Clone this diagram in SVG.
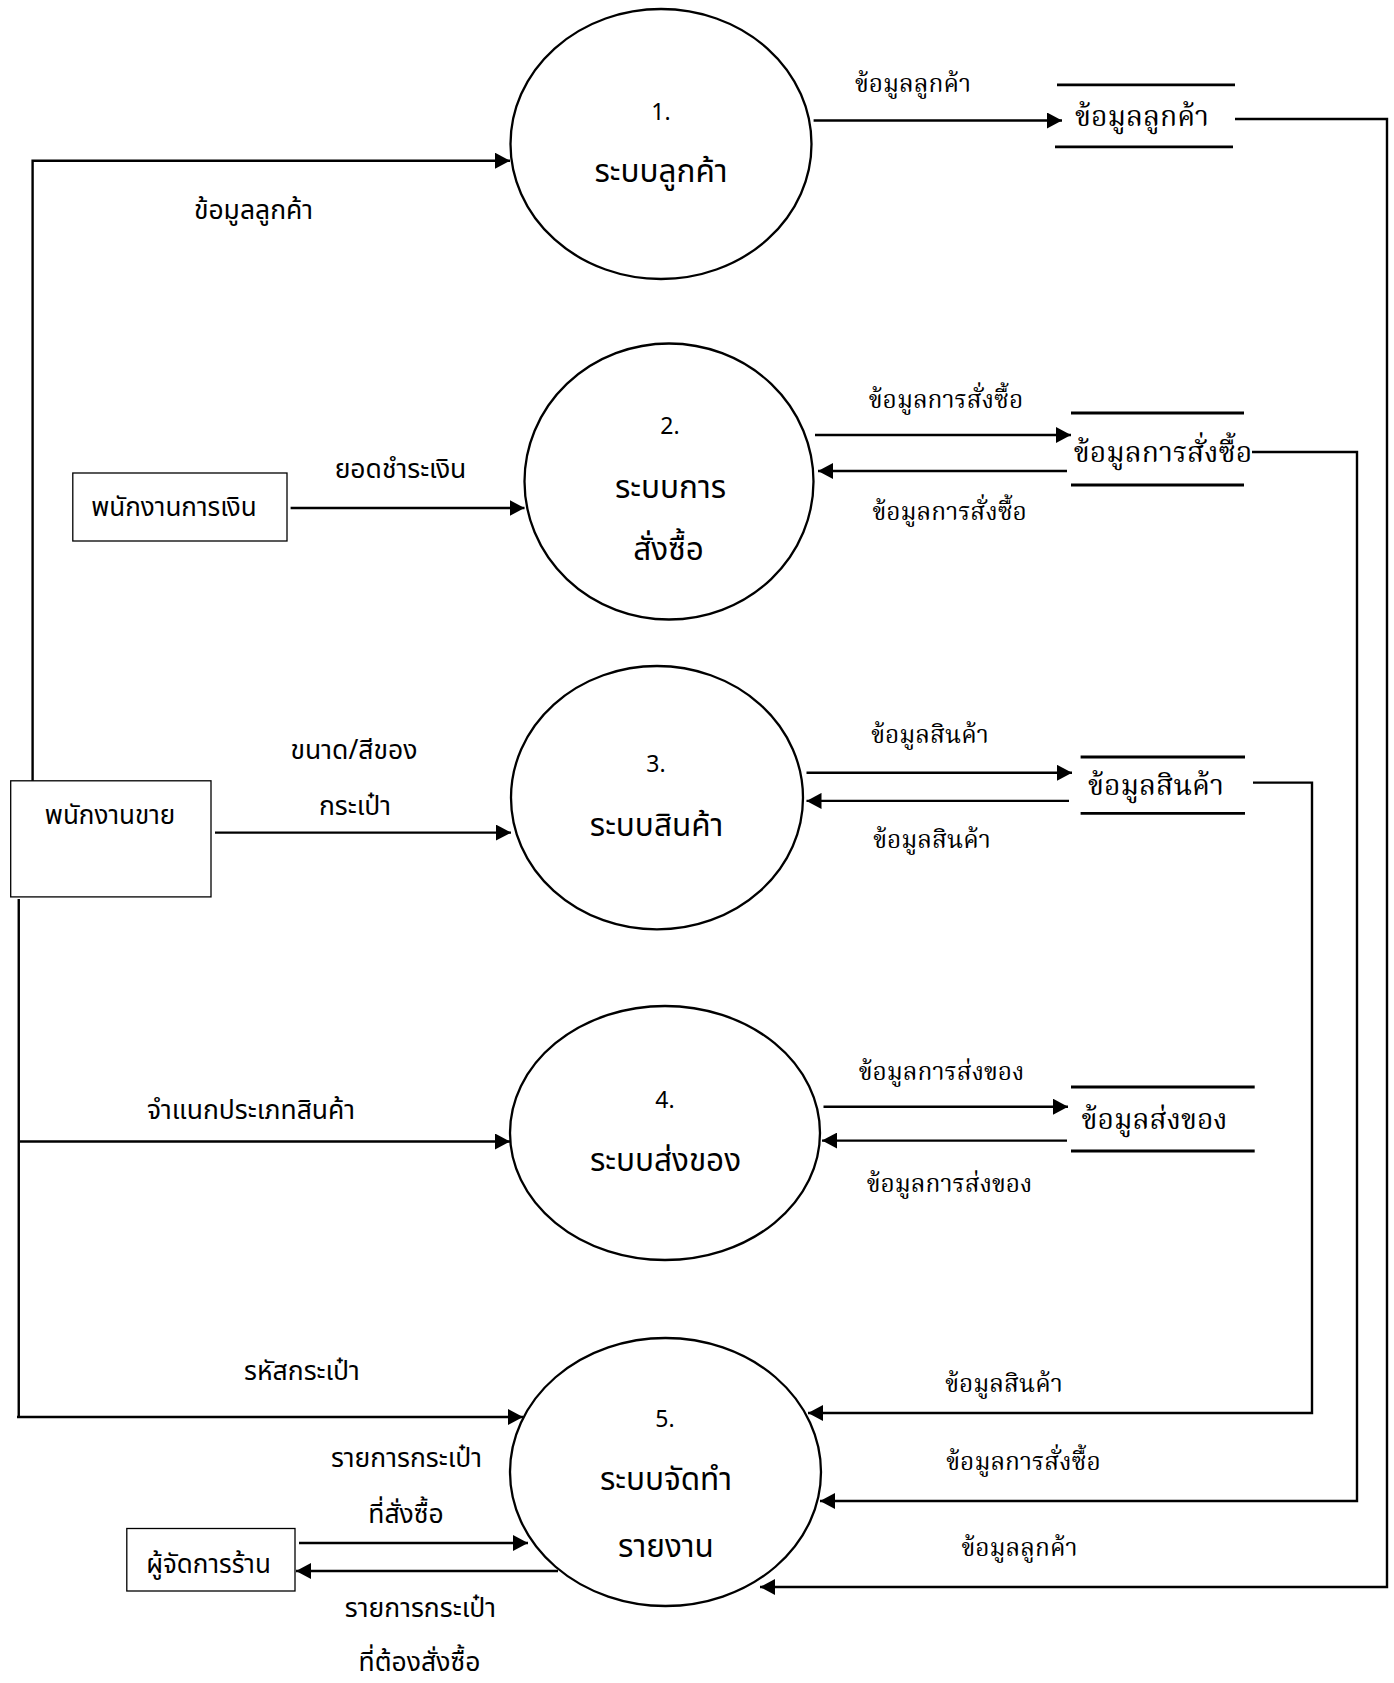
<svg xmlns="http://www.w3.org/2000/svg" width="1394" height="1683" viewBox="0 0 1394 1683">
<defs>
<marker id="ah" markerUnits="userSpaceOnUse" markerWidth="16" markerHeight="16" refX="15" refY="8" orient="auto">
<path d="M0,0 L15,8 L0,16 z" fill="#000"/>
</marker>
<style>
.proc{fill:#fff;stroke:#000;stroke-width:2.3}
.ent{fill:#fff;stroke:#000;stroke-width:1.3}
.store{stroke:#000;stroke-width:2.8}
.c{fill:none;stroke:#000;stroke-width:2.4}
.ca{fill:none;stroke:#000;stroke-width:2.4;marker-end:url(#ah)}
.pn{font-family:"Noto Sans Thai","Tahoma","DejaVu Sans","Noto Sans",sans-serif;font-size:23px;fill:#000;text-anchor:middle}
.pt{font-family:"Noto Sans Thai","Tahoma","DejaVu Sans","Noto Sans",sans-serif;font-size:31.5px;fill:#000;text-anchor:middle}
.et{font-family:"Noto Sans Thai","Tahoma","DejaVu Sans","Noto Sans",sans-serif;font-size:26px;fill:#000;text-anchor:middle}
.ls{font-family:"Noto Sans Thai","Tahoma","DejaVu Sans","Noto Sans",sans-serif;font-size:26.5px;fill:#000;text-anchor:middle}
.lr{font-family:"Noto Serif Thai","Angsana New","DejaVu Serif","Liberation Serif",serif;font-size:24.5px;fill:#000;text-anchor:middle}
.st{font-family:"Noto Serif Thai","Angsana New","DejaVu Serif","Liberation Serif",serif;font-size:28.3px;fill:#000;text-anchor:middle}
</style>
</defs>
<rect width="1394" height="1683" fill="#fff"/>

<g id="connectors">
<polyline class="ca" points="32.6,786.6 32.6,160.7 510,160.7"/>
<line class="c" x1="18.75" y1="899" x2="18.75" y2="1417"/>
<line class="ca" x1="290.6" y1="508" x2="524.5" y2="508"/>
<line class="ca" x1="215" y1="832.6" x2="511" y2="832.6"/>
<line class="ca" x1="20" y1="1141.5" x2="510" y2="1141.5"/>
<line class="ca" x1="17" y1="1417" x2="523" y2="1417"/>
<line class="ca" x1="299" y1="1543" x2="528" y2="1543"/>
<line class="ca" x1="558" y1="1571" x2="296" y2="1571"/>
<line class="ca" x1="813.6" y1="120.5" x2="1062" y2="120.5"/>
<line class="ca" x1="815" y1="435" x2="1071" y2="435"/>
<line class="ca" x1="1067" y1="471" x2="818" y2="471"/>
<line class="ca" x1="806.5" y1="772.8" x2="1072" y2="772.8"/>
<line class="ca" x1="1069" y1="800.9" x2="806.5" y2="800.9"/>
<line class="ca" x1="823.5" y1="1106.7" x2="1068" y2="1106.7"/>
<line class="ca" x1="1067" y1="1140.6" x2="822" y2="1140.6"/>
<polyline class="ca" points="1235,119 1387,119 1387,1587 760,1587"/>
<polyline class="ca" points="1252,452 1357,452 1357,1501 820,1501"/>
<polyline class="ca" points="1253,782.6 1312,782.6 1312,1413 808,1413"/>
</g>

<g id="p1">
<ellipse class="proc" cx="661" cy="144" rx="150.5" ry="135"/>
<text class="pn" x="661" y="120">1.</text>
<text class="pt" x="661" y="182">ระบบลูกค้า</text>
</g>
<g id="p2">
<ellipse class="proc" cx="669" cy="481.5" rx="144.5" ry="138"/>
<text class="pn" x="670" y="434">2.</text>
<text class="pt" x="670.5" y="498">ระบบการ</text>
<text class="pt" x="668.6" y="560">สั่งซื้อ</text>
</g>
<g id="p3">
<ellipse class="proc" cx="657" cy="797.7" rx="146" ry="131.7"/>
<text class="pn" x="656" y="772">3.</text>
<text class="pt" x="656.6" y="836">ระบบสินค้า</text>
</g>
<g id="p4">
<ellipse class="proc" cx="665" cy="1133" rx="155" ry="127"/>
<text class="pn" x="665" y="1108">4.</text>
<text class="pt" x="665.5" y="1171">ระบบส่งของ</text>
</g>
<g id="p5">
<ellipse class="proc" cx="665.5" cy="1472" rx="155.5" ry="134"/>
<text class="pn" x="665" y="1427">5.</text>
<text class="pt" x="666" y="1490">ระบบจัดทำ</text>
<text class="pt" x="666" y="1557">รายงาน</text>
</g>

<g id="e-finance">
<rect class="ent" x="72.8" y="473" width="214.2" height="68"/>
<text class="et" x="174" y="516">พนักงานการเงิน</text>
</g>
<g id="e-sales">
<rect class="ent" x="10.7" y="780.8" width="200.3" height="116.1"/>
<text class="et" x="110" y="824">พนักงานขาย</text>
</g>
<g id="e-manager">
<rect class="ent" x="126.8" y="1528.5" width="168.2" height="62.5"/>
<text class="et" x="208.5" y="1573">ผู้จัดการร้าน</text>
</g>

<g id="d1">
<line class="store" x1="1057" y1="84.8" x2="1235" y2="84.8"/>
<line class="store" x1="1055" y1="146.9" x2="1233" y2="146.9"/>
<text class="st" x="1142" y="126">ข้อมูลลูกค้า</text>
</g>
<g id="d2">
<line class="store" x1="1071" y1="413" x2="1244" y2="413"/>
<line class="store" x1="1071" y1="485" x2="1244" y2="485"/>
<text class="st" x="1163" y="462">ข้อมูลการสั่งซื้อ</text>
</g>
<g id="d3">
<line class="store" x1="1080.6" y1="757" x2="1245" y2="757"/>
<line class="store" x1="1080.6" y1="813.4" x2="1245" y2="813.4"/>
<text class="st" x="1156" y="795">ข้อมูลสินค้า</text>
</g>
<g id="d4">
<line class="store" x1="1071" y1="1087" x2="1254.7" y2="1087"/>
<line class="store" x1="1071" y1="1151" x2="1254.7" y2="1151"/>
<text class="st" x="1154.5" y="1129">ข้อมูลส่งของ</text>
</g>

<g id="labels">
<text class="ls" x="253.5" y="219">ข้อมูลลูกค้า</text>
<text class="ls" x="400.5" y="478">ยอดชำระเงิน</text>
<text class="ls" x="354" y="758.5">ขนาด/สีของ</text>
<text class="ls" x="355" y="815">กระเป๋า</text>
<text class="ls" x="251" y="1118.7">จำแนกประเภทสินค้า</text>
<text class="ls" x="302" y="1380">รหัสกระเป๋า</text>
<text class="ls" x="406.5" y="1467">รายการกระเป๋า</text>
<text class="ls" x="406" y="1523">ที่สั่งซื้อ</text>
<text class="ls" x="420.4" y="1617">รายการกระเป๋า</text>
<text class="ls" x="419.5" y="1671">ที่ต้องสั่งซื้อ</text>
<text class="lr" x="913" y="91.5">ข้อมูลลูกค้า</text>
<text class="lr" x="946" y="408">ข้อมูลการสั่งซื้อ</text>
<text class="lr" x="949.6" y="520">ข้อมูลการสั่งซื้อ</text>
<text class="lr" x="930" y="743">ข้อมูลสินค้า</text>
<text class="lr" x="932" y="848">ข้อมูลสินค้า</text>
<text class="lr" x="941.5" y="1080">ข้อมูลการส่งของ</text>
<text class="lr" x="949.5" y="1191.5">ข้อมูลการส่งของ</text>
<text class="lr" x="1004" y="1391.5">ข้อมูลสินค้า</text>
<text class="lr" x="1023.5" y="1469.6">ข้อมูลการสั่งซื้อ</text>
<text class="lr" x="1019.5" y="1556">ข้อมูลลูกค้า</text>
</g>
</svg>
